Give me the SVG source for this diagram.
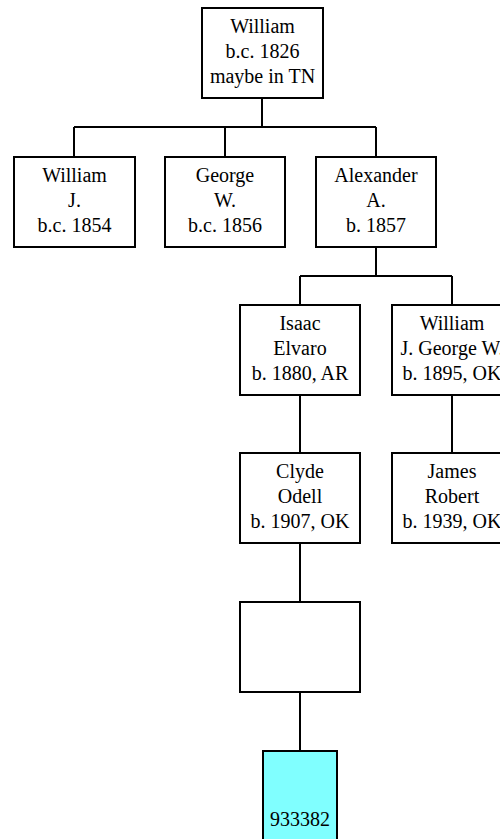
<svg xmlns="http://www.w3.org/2000/svg" width="500" height="839" viewBox="0 0 500 839">
<style>
.box{fill:#ffffff;stroke:#000000;stroke-width:2}
.cyan{fill:#80ffff;stroke:#000000;stroke-width:2}
.conn{fill:none;stroke:#000000;stroke-width:2}
text{font-family:"Liberation Serif","Times New Roman",serif;font-size:20px;fill:#000000;text-anchor:middle}
</style>
<rect x="0" y="0" width="500" height="839" fill="#ffffff"/>
<g id="connectors">
<path class="conn" d="M262 98 V127 M74 127 H376 M74 127 V157 M225 127 V157 M376 127 V157"/>
<path class="conn" d="M376 247 V276 M300 276 H452 M300 276 V305 M452 276 V305"/>
<path class="conn" d="M300 395 V453 M452 395 V453 M300 543 V602 M300 692 V751"/>
</g>
<g id="n_william_1826">
<rect class="box" x="202" y="8" width="121" height="90"/>
<text x="262.5" y="33">William</text>
<text x="262.5" y="58">b.c. 1826</text>
<text x="262.5" y="83">maybe in TN</text>
</g>
<g id="n_william_j">
<rect class="box" x="14" y="157" width="121" height="90"/>
<text x="74.5" y="182">William</text>
<text x="74.5" y="207">J.</text>
<text x="74.5" y="232">b.c. 1854</text>
</g>
<g id="n_george_w">
<rect class="box" x="165" y="157" width="120" height="90"/>
<text x="225" y="182">George</text>
<text x="225" y="207">W.</text>
<text x="225" y="232">b.c. 1856</text>
</g>
<g id="n_alexander">
<rect class="box" x="316" y="157" width="120" height="90"/>
<text x="376" y="182">Alexander</text>
<text x="376" y="207">A.</text>
<text x="376" y="232">b. 1857</text>
</g>
<g id="n_isaac">
<rect class="box" x="240" y="305" width="120" height="90"/>
<text x="300" y="330">Isaac</text>
<text x="300" y="355">Elvaro</text>
<text x="300" y="380">b. 1880, AR</text>
</g>
<g id="n_william_jgw">
<rect class="box" x="392" y="305" width="120" height="90"/>
<text x="452" y="330">William</text>
<text x="452" y="355">J. George W.</text>
<text x="452" y="380">b. 1895, OK</text>
</g>
<g id="n_clyde">
<rect class="box" x="240" y="453" width="120" height="90"/>
<text x="300" y="478">Clyde</text>
<text x="300" y="503">Odell</text>
<text x="300" y="528">b. 1907, OK</text>
</g>
<g id="n_james">
<rect class="box" x="392" y="453" width="120" height="90"/>
<text x="452" y="478">James</text>
<text x="452" y="503">Robert</text>
<text x="452" y="528">b. 1939, OK</text>
</g>
<g id="n_blank">
<rect class="box" x="240" y="602" width="120" height="90"/>
</g>
<g id="n_933382">
<rect class="cyan" x="263" y="751" width="74" height="100"/>
<text x="300" y="826">933382</text>
</g>
</svg>
